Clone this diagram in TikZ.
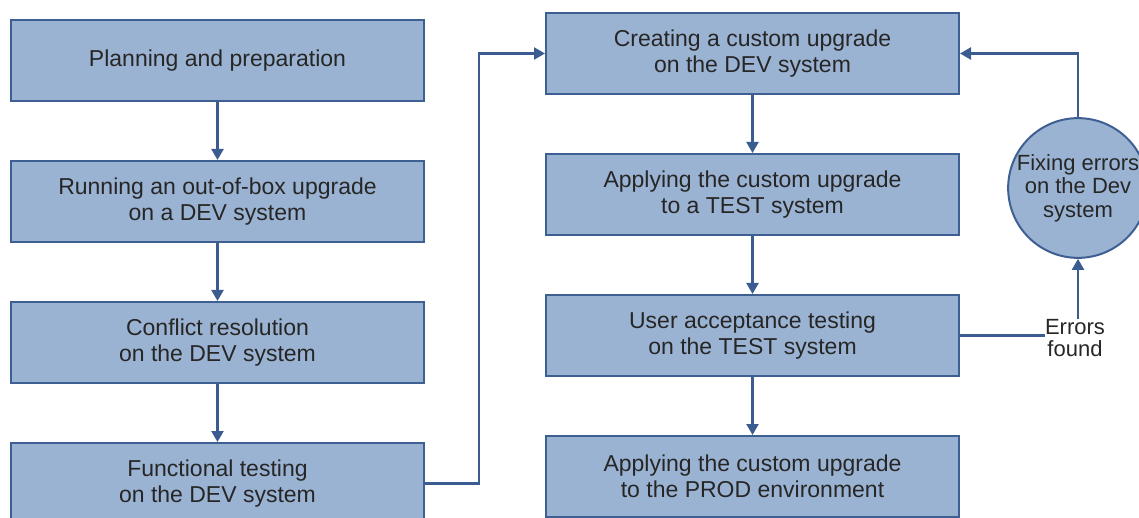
\documentclass[tikz,border=0pt]{standalone}
\usepackage{fontspec}
\setmainfont{Liberation Sans}
\usetikzlibrary{positioning,arrows.meta}
\definecolor{boxfill}{RGB}{155,179,210}
\definecolor{boxline}{RGB}{62,95,145}
\definecolor{flowline}{RGB}{58,92,145}

\begin{document}
\begin{tikzpicture}[%
  x=1pt, y=1pt,
  node distance=58pt,
  stage/.style={draw=boxline, fill=boxfill, line width=2pt,
    minimum width=413pt, minimum height=81pt, inner sep=0pt,
    align=center, text=black!85, font=\fontsize{23}{26}\selectfont},
  fixer/.style={circle, draw=boxline, fill=boxfill, line width=2pt,
    minimum size=120pt, inner sep=0pt,
    align=center, text=black!85, font=\fontsize{22}{23.5}\selectfont},
  elabel/.style={inner sep=0pt, align=center, text=black!85,
    font=\fontsize{22}{21.5}\selectfont},
  link/.style={draw=flowline, line width=2.2pt},
  flow/.style={link, -{Triangle[width=12pt,length=11pt]}}]
\useasboundingbox (0,0) rectangle (1139,-518);
\node[stage] (plan) at (217.5,-60.5) {Planning and preparation};
\node[stage, below=of plan] (oob) {Running an out-of-box upgrade\\on a DEV system};
\node[stage, below=of oob] (conflict) {Conflict resolution\\on the DEV system};
\node[stage, below=of conflict] (functest) {Functional testing\\on the DEV system};

\node[stage] (create) at (752.5,-53.5) {Creating a custom upgrade\\on the DEV system};
\node[stage, below=of create] (applytest) {Applying the custom upgrade\\to a TEST system};
\node[stage, below=of applytest] (uat) {User acceptance testing\\on the TEST system};
\node[stage, below=of uat] (applyprod) {Applying the custom upgrade\\to the PROD environment};

\node[fixer] (fix) at (1078,-188) {Fixing errors\\on the Dev\\system};
\node[elabel] (errs) at (1075,-338) {Errors\\found};

\draw[flow] (plan) -- (oob);
\draw[flow] (oob) -- (conflict);
\draw[flow] (conflict) -- (functest);
\draw[flow] (functest.east) -- ++(54,0) |- (create.west);
\draw[flow] (create) -- (applytest);
\draw[flow] (applytest) -- (uat);
\draw[flow] (uat) -- (applyprod);
\draw[link] (uat.east) -- (uat.east -| errs.west);
\draw[flow] (errs.north -| fix) -- (fix);
\draw[flow] (fix.north) |- (create.east);
\end{tikzpicture}
\end{document}
